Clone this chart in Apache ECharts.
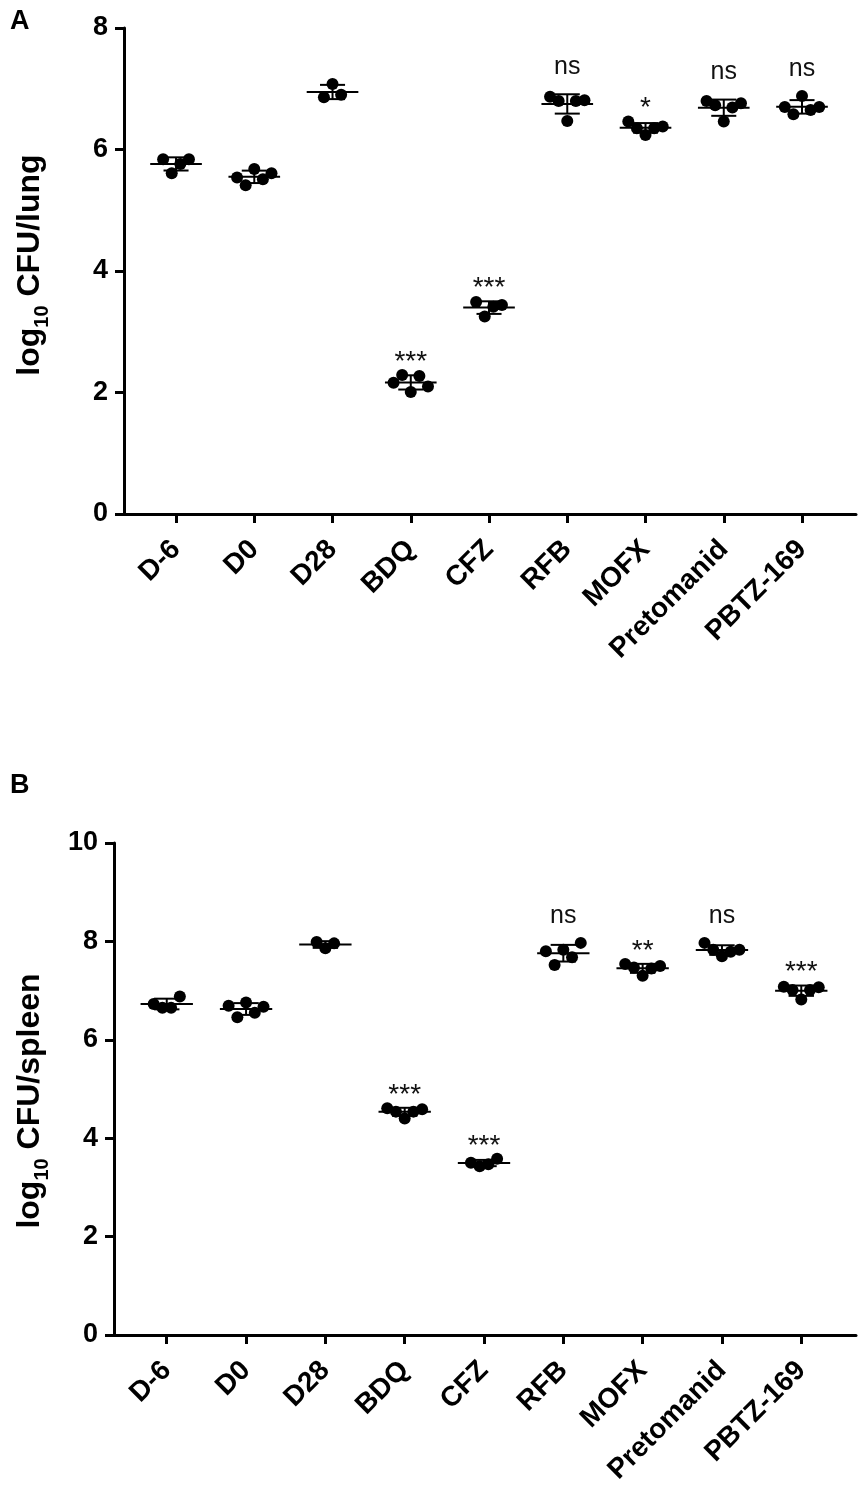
<!DOCTYPE html>
<html>
<head>
<meta charset="utf-8">
<script src="https://cdn.jsdelivr.net/npm/echarts@6/dist/echarts.min.js"></script>
<style>
html,body{margin:0;padding:0;background:#fff;}
#chart{width:862px;height:1494px;}
</style>
</head>
<body>
<div id="chart"></div>
<script>
// ---- Data ----
const categories = ['D-6', 'D0', 'D28', 'BDQ', 'CFZ', 'RFB', 'MOFX', 'Pretomanid', 'PBTZ-169'];

// Panel A: log10 CFU/lung (individual mice, left to right)
const lungD6   = [5.84, 5.61, 5.76, 5.84];
const lungD0   = [5.54, 5.41, 5.68, 5.51, 5.61];
const lungD28  = [6.86, 7.08, 6.90];
const lungBDQ  = [2.16, 2.29, 2.01, 2.27, 2.10];
const lungCFZ  = [3.49, 3.25, 3.41, 3.44];
const lungRFB  = [6.87, 6.80, 6.47, 6.80, 6.81];
const lungMOFX = [6.46, 6.35, 6.24, 6.35, 6.38];
const lungPRE  = [6.80, 6.73, 6.46, 6.69, 6.76];
const lungPBTZ = [6.70, 6.58, 6.88, 6.65, 6.70];
const lungSig  = ['', '', '', '***', '***', 'ns', '*', 'ns', 'ns'];

// Panel B: log10 CFU/spleen
const splD6   = [6.73, 6.65, 6.65, 6.88];
const splD0   = [6.69, 6.46, 6.76, 6.55, 6.67];
const splD28  = [7.99, 7.86, 7.96];
const splBDQ  = [4.61, 4.54, 4.40, 4.54, 4.59];
const splCFZ  = [3.50, 3.43, 3.47, 3.58];
const splRFB  = [7.80, 7.52, 7.83, 7.68, 7.97];
const splMOFX = [7.54, 7.47, 7.30, 7.45, 7.50];
const splPRE  = [7.97, 7.83, 7.70, 7.79, 7.83];
const splPBTZ = [7.08, 7.01, 6.82, 7.01, 7.07];
const splSig  = ['', '', '', '***', '***', 'ns', '**', 'ns', '***'];

const lungTicks = [0, 2, 4, 6, 8];
const splTicks  = [0, 2, 4, 6, 8, 10];

const lungGroups = [lungD6, lungD0, lungD28, lungBDQ, lungCFZ, lungRFB, lungMOFX, lungPRE, lungPBTZ];
const splGroups  = [splD6, splD0, splD28, splBDQ, splCFZ, splRFB, splMOFX, splPRE, splPBTZ];

// ---- helpers ----
const FONT = "'Liberation Sans', Arial, Helvetica, sans-serif";
function stats(arr) {
  const n = arr.length;
  const m = arr.reduce((a, b) => a + b, 0) / n;
  const sd = Math.sqrt(arr.reduce((a, b) => a + (b - m) * (b - m), 0) / (n - 1));
  return [m, sd];
}
const STEP = 0.11;
function pointsData(groups) {
  const out = [];
  groups.forEach((g, ci) => {
    g.forEach((v, i) => out.push([ci + (i - (g.length - 1) / 2) * STEP, v]));
  });
  return out;
}
function barsData(groups) {
  return groups.map((g, ci) => { const s = stats(g); return [ci, s[0], s[1]]; });
}
function sigData(groups, sig) {
  const out = [];
  groups.forEach((g, ci) => {
    if (!sig[ci]) return;
    const s = stats(g);
    out.push([ci, Math.max(Math.max.apply(null, g), s[0] + s[1]), sig[ci]]);
  });
  return out;
}

function renderBars(params, api) {
  const x = api.value(0), m = api.value(1), sd = api.value(2);
  const c = api.coord([x, m]);
  const t = api.coord([x, m + sd]);
  const b = api.coord([x, m - sd]);
  const hw = api.size([0.33, 0])[0];
  const cw = api.size([0.16, 0])[0];
  const st = { stroke: '#000', lineWidth: 2 };
  return {
    type: 'group',
    children: [
      { type: 'line', shape: { x1: c[0] - hw, y1: c[1], x2: c[0] + hw, y2: c[1] }, style: st },
      { type: 'line', shape: { x1: c[0], y1: t[1], x2: c[0], y2: b[1] }, style: st },
      { type: 'line', shape: { x1: c[0] - cw, y1: t[1], x2: c[0] + cw, y2: t[1] }, style: st },
      { type: 'line', shape: { x1: c[0] - cw, y1: b[1], x2: c[0] + cw, y2: b[1] }, style: st }
    ]
  };
}
function renderSig(params, api) {
  const x = api.value(0), top = api.value(1);
  const txt = sigTexts[params.seriesIndex][params.dataIndex];
  const p = api.coord([x, top]);
  const isNs = txt === 'ns';
  return {
    type: 'text',
    style: {
      text: txt,
      x: p[0],
      y: isNs ? p[1] - 27 : p[1] - 13,
      align: 'center',
      verticalAlign: 'middle',
      font: (isNs ? '25px ' : '28px ') + FONT,
      fill: '#111'
    }
  };
}

const sigA = sigData(lungGroups, lungSig);
const sigB = sigData(splGroups, splSig);
const sigTexts = {};

function xAxisCfg(gi) {
  return {
    type: 'value', gridIndex: gi, min: -0.665, max: 8.69,
    splitLine: { show: false },
    axisLine: { show: true, onZero: false, lineStyle: { color: '#000', width: 3 } },
    axisTick: { show: true, customValues: [0, 1, 2, 3, 4, 5, 6, 7, 8], length: 9, lineStyle: { color: '#000', width: 3 } },
    axisLabel: {
      customValues: [0, 1, 2, 3, 4, 5, 6, 7, 8],
      formatter: v => categories[Math.round(v)],
      rotate: 45, margin: 31,
      fontFamily: FONT, fontWeight: 'bold', fontSize: 28, color: '#000'
    }
  };
}
function yAxisCfg(gi, max, name, nameGap, pad) {
  return {
    type: 'value', gridIndex: gi, min: 0, max: max, interval: 2,
    name: name, nameLocation: 'middle', nameRotate: 90, nameGap: nameGap,
    nameTextStyle: {
      fontFamily: FONT, fontWeight: 'bold', color: '#000', padding: pad,
      rich: {
        a: { fontFamily: FONT, fontWeight: 'bold', fontSize: 32, lineHeight: 44, color: '#000' },
        b: { fontFamily: FONT, fontWeight: 'bold', fontSize: 20, lineHeight: 44, verticalAlign: 'bottom', color: '#000' }
      }
    },
    splitLine: { show: false },
    axisLine: { show: true, onZero: false, lineStyle: { color: '#000', width: 3 } },
    axisTick: { show: true, length: 9, lineStyle: { color: '#000', width: 3 } },
    axisLabel: { fontFamily: FONT, fontWeight: 'bold', fontSize: 27, color: '#000', margin: 16 }
  };
}

const chart = echarts.init(document.getElementById('chart'), null, { renderer: 'canvas' });
const option = {
  animation: false,
  backgroundColor: '#fff',
  title: [
    { text: 'A', left: 5, top: 3, textStyle: { fontFamily: FONT, fontWeight: 'bold', fontSize: 27, color: '#000' } },
    { text: 'B', left: 5, top: 767, textStyle: { fontFamily: FONT, fontWeight: 'bold', fontSize: 27, color: '#000' } }
  ],
  grid: [
    { left: 124, right: 6, top: 28, bottom: 980 },
    { left: 114, right: 6, top: 843, bottom: 159 }
  ],
  xAxis: [xAxisCfg(0), xAxisCfg(1)],
  yAxis: [
    yAxisCfg(0, 8, '{a|log}{b|10}{a| CFU/lung}', 72, [0, 0, 0, 12]),
    yAxisCfg(1, 10, '{a|log}{b|10}{a| CFU/spleen}', 62, [0, 24, 0, 0])
  ],
  series: [
    { type: 'custom', xAxisIndex: 0, yAxisIndex: 0, renderItem: renderBars, data: barsData(lungGroups), z: 3 },
    { type: 'scatter', xAxisIndex: 0, yAxisIndex: 0, symbol: 'circle', symbolSize: 12, itemStyle: { color: '#000', opacity: 1 }, data: pointsData(lungGroups), z: 4 },
    { type: 'custom', xAxisIndex: 0, yAxisIndex: 0, renderItem: renderSig, data: sigA.map(d => [d[0], d[1]]), z: 5 },
    { type: 'custom', xAxisIndex: 1, yAxisIndex: 1, renderItem: renderBars, data: barsData(splGroups), z: 3 },
    { type: 'scatter', xAxisIndex: 1, yAxisIndex: 1, symbol: 'circle', symbolSize: 12, itemStyle: { color: '#000', opacity: 1 }, data: pointsData(splGroups), z: 4 },
    { type: 'custom', xAxisIndex: 1, yAxisIndex: 1, renderItem: renderSig, data: sigB.map(d => [d[0], d[1]]), z: 5 }
  ]
};
sigTexts[2] = sigA.map(d => d[2]);
sigTexts[5] = sigB.map(d => d[2]);
chart.setOption(option);
</script>
</body>
</html>
